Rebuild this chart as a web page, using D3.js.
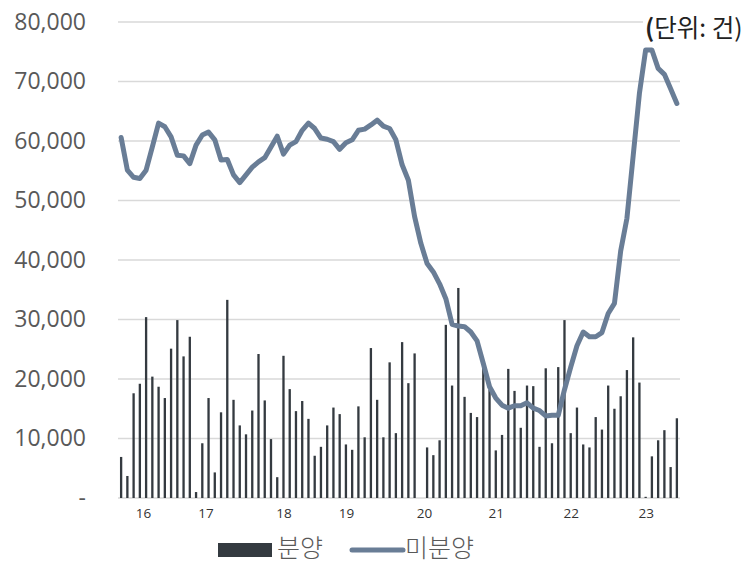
<!DOCTYPE html>
<html>
<head>
<meta charset="utf-8">
<script src="https://cdn.jsdelivr.net/npm/d3@7"></script>
<style>
  html, body { margin: 0; padding: 0; background: #fff; }
  svg { display: block; }
</style>
</head>
<body>
<div id="chart-container"></div>
<script>
const width = 756;
const height = 565;
const plot = { left: 118, right: 680, top: 22, bottom: 498 };

// monthly, Jan 2016 .. Jun 2023
const months = [];
for (let y = 2016; y <= 2023; y++) {
  for (let m = 1; m <= 12; m++) {
    if (y === 2023 && m > 6) break;
    months.push(`${y}-${String(m).padStart(2, "0")}`);
  }
}

// 분양 (bars)
const sales = [
  6900, 3700, 17600, 19200, 30400, 20400, 18700, 16800, 25100, 29900, 23800, 27100,
  1000, 9200, 16800, 4300, 14400, 33300, 16500, 12200, 10700, 14700, 24200, 16400,
  9900, 3500, 23900, 18300, 14600, 16300, 13300, 7100, 8600, 12200, 15200, 14100,
  9000, 8100, 15400, 10200, 25200, 16500, 10200, 22800, 10900, 26200, 19300, 24300,
  0, 8500, 7200, 9700, 29100, 18900, 35300, 17000, 14300, 13600, 22000, 18200,
  8000, 10600, 21700, 18000, 11800, 18900, 18800, 8600, 21800, 9200, 22000, 29900,
  10900, 15200, 9000, 8500, 13600, 11500, 18900, 15000, 17100, 21500, 27000, 19400,
  200, 7000, 9700, 11400, 5200, 13400
];

// 미분양 (line)
const unsold = [
  60600, 55100, 53900, 53700, 55100, 59000, 63000, 62400, 60700, 57600, 57500, 56200,
  59300, 61000, 61500, 60200, 56800, 56900, 54300, 53000, 54300, 55600, 56500, 57200,
  59000, 60800, 57800, 59300, 59900, 61800, 63000, 62100, 60500, 60300, 59900, 58600,
  59700, 60200, 61800, 62000, 62700, 63500, 62500, 62100, 60200, 56000, 53400, 47300,
  42800, 39400, 38000, 36000, 33500, 29200, 28900, 28800, 27900, 26400, 22600, 18700,
  16800, 15600, 15100, 15500, 15500, 16000, 15100, 14700, 13800, 13900, 13900, 18200,
  22000, 25600, 27900, 27100, 27100, 27800, 31000, 32700, 41500, 47000, 57500, 68000,
  75300, 75300, 72200, 71200, 68800, 66300
];

const yTicks = [0, 10000, 20000, 30000, 40000, 50000, 60000, 70000, 80000];
// year labels sit at these month positions (index into months)
const yearTickPos = [3.5, 13.5, 26, 36, 48.5, 60, 72, 84];
const yearTickLabels = ["16", "17", "18", "19", "20", "21", "22", "23"];

const svg = d3.select("#chart-container")
  .append("svg")
  .attr("width", width)
  .attr("height", height)
  .attr("viewBox", `0 0 ${width} ${height}`);

const x = d3.scaleBand()
  .domain(months)
  .range([plot.left, plot.right])
  .paddingInner(0.63)
  .paddingOuter(0.315);

const xi = d3.scaleLinear()
  .domain([-0.5, months.length - 0.5])
  .range([plot.left, plot.right]);

const y = d3.scaleLinear()
  .domain([0, 80000])
  .range([plot.bottom, plot.top]);

// gridlines
svg.append("g")
  .selectAll("line")
  .data(yTicks)
  .join("line")
  .attr("x1", plot.left)
  .attr("x2", plot.right)
  .attr("y1", (d) => y(d))
  .attr("y2", (d) => y(d))
  .attr("stroke", "#d9d9d9")
  .attr("stroke-width", 1.5);

// y axis
const yAxis = svg.append("g")
  .attr("transform", `translate(${plot.left},0)`)
  .call(
    d3.axisLeft(y)
      .tickValues(yTicks)
      .tickSize(0)
      .tickPadding(32)
      .tickFormat((d) => (d === 0 ? "-" : d3.format(",")(d)))
  );
yAxis.select(".domain").remove();
yAxis.selectAll("text")
  .attr("fill", "#595959")
  .style("font-family", "'Open Sans', sans-serif")
  .style("font-size", "23px");

// x axis
const xAxis = svg.append("g")
  .attr("transform", `translate(0,${plot.bottom})`)
  .call(
    d3.axisBottom(xi)
      .tickValues(yearTickPos)
      .tickSize(0)
      .tickPadding(10)
      .tickFormat((d, i) => yearTickLabels[i])
  );
xAxis.select(".domain").remove();
xAxis.selectAll("text")
  .attr("fill", "#333")
  .style("font-family", "'Open Sans', sans-serif")
  .style("font-size", "13.5px");

// bars
svg.append("g")
  .attr("fill", "#343a40")
  .selectAll("rect")
  .data(sales)
  .join("rect")
  .attr("x", (d, i) => x(months[i]))
  .attr("y", (d) => y(d))
  .attr("width", x.bandwidth())
  .attr("height", (d) => y(0) - y(d));

// line
const line = d3.line()
  .x((d, i) => x(months[i]) + x.bandwidth() / 2)
  .y((d) => y(d));

svg.append("path")
  .datum(unsold)
  .attr("d", line)
  .attr("fill", "none")
  .attr("stroke", "#697d96")
  .attr("stroke-width", 5)
  .attr("stroke-linejoin", "round")
  .attr("stroke-linecap", "round");

// unit note
svg.append("rect")
  .attr("x", 643)
  .attr("y", 10)
  .attr("width", 113)
  .attr("height", 30)
  .attr("fill", "#fff");

const unit = svg.append("text")
  .attr("x", 645)
  .attr("y", 37)
  .attr("fill", "#222")
  .style("font-family", "'Noto Sans CJK KR', sans-serif")
  .style("font-size", "24.5px");
unit.append("tspan").style("font-weight", "bold").text("(");
unit.append("tspan").text("단위: 건)");

// legend
const legend = svg.append("g").attr("transform", "translate(218,550)");
legend.append("rect")
  .attr("x", 0)
  .attr("y", -7)
  .attr("width", 54)
  .attr("height", 14)
  .attr("fill", "#343a40");
legend.append("text")
  .attr("x", 59)
  .attr("y", 7)
  .attr("fill", "#595959")
  .style("font-family", "'Noto Sans CJK KR', sans-serif")
  .style("font-weight", 300)
  .style("font-size", "25px")
  .text("분양");
legend.append("line")
  .attr("x1", 134)
  .attr("x2", 185)
  .attr("y1", 0)
  .attr("y2", 0)
  .attr("stroke", "#697d96")
  .attr("stroke-width", 5)
  .attr("stroke-linecap", "round");
legend.append("text")
  .attr("x", 187)
  .attr("y", 7)
  .attr("fill", "#595959")
  .style("font-family", "'Noto Sans CJK KR', sans-serif")
  .style("font-weight", 300)
  .style("font-size", "25px")
  .text("미분양");
</script>
</body>
</html>
